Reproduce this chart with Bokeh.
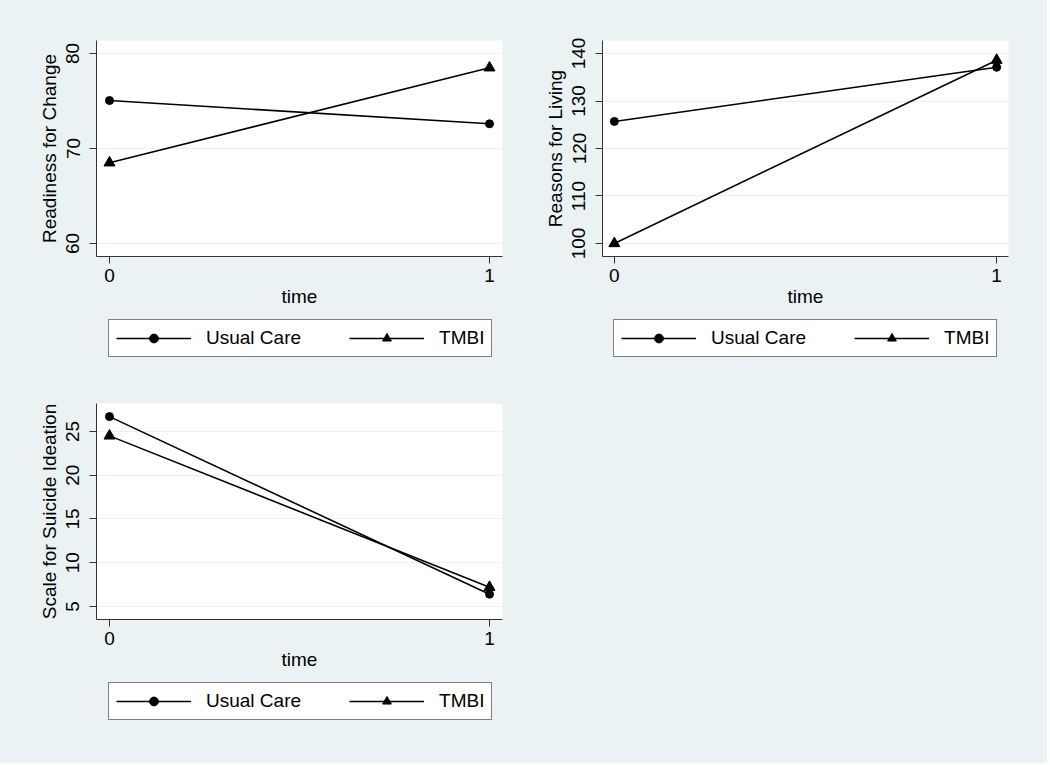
from bokeh.plotting import figure
from bokeh.models import Legend, LegendItem, FixedTicker, Range1d, Spacer
from bokeh.layouts import column, row
from bokeh.embed import file_html
from bokeh.resources import INLINE

# ---------------- data ----------------
time = [0, 1]
readiness_usual = [75.05, 72.6]
readiness_tmbi = [68.5, 78.5]
rfl_usual = [125.7, 137.1]
rfl_tmbi = [100.0, 138.6]
ssi_usual = [26.7, 6.4]
ssi_tmbi = [24.5, 7.2]

series_labels = ["Usual Care", "TMBI"]
x_ticks = [0, 1]
readiness_ticks = [60, 70, 80]
rfl_ticks = [100, 110, 120, 130, 140]
ssi_ticks = [5, 10, 15, 20, 25]

BG = "#EAF2F3"
FONT = "Liberation Sans"
FS = "19px"


def add_series(p, yu, yt, visible=True):
    lu = p.line(time, yu, line_color="black", line_width=1.6, visible=visible)
    su = p.scatter(time, yu, marker="circle", size=8, color="black", visible=visible)
    lt = p.line(time, yt, line_color="black", line_width=1.6, visible=visible)
    st = p.scatter(time, yt, marker="triangle", size=11, color="black", visible=visible)
    return lu, su, lt, st


def make_panel(yu, yt, yticks, yrange, ylabel, xrange, w, border_left, border_right,
               border_top, leg_h, leg_x, leg_y):
    p = figure(width=w, height=border_top + 216 + 60,
               x_range=Range1d(*xrange), y_range=Range1d(*yrange),
               output_backend="svg", toolbar_location=None,
               min_border_left=border_left, min_border_right=border_right,
               min_border_top=border_top, min_border_bottom=60)
    p.border_fill_color = BG
    p.background_fill_color = "white"
    p.outline_line_color = None

    p.xgrid.grid_line_color = None
    p.ygrid.grid_line_color = BG
    p.ygrid.grid_line_width = 1.2
    p.ygrid.ticker = FixedTicker(ticks=yticks)

    p.xaxis.ticker = FixedTicker(ticks=x_ticks)
    p.yaxis.ticker = FixedTicker(ticks=yticks)
    for ax in (p.xaxis[0], p.yaxis[0]):
        ax.minor_tick_line_color = None
        ax.major_tick_in = 0
        ax.major_tick_out = 7
        ax.axis_line_color = "#333333"
        ax.major_tick_line_color = "#333333"
        ax.major_label_text_font = FONT
        ax.major_label_text_font_size = FS
        ax.major_label_text_color = "black"
        ax.axis_label_text_font = FONT
        ax.axis_label_text_font_size = FS
        ax.axis_label_text_font_style = "normal"
        ax.axis_label_text_color = "black"
        ax.major_label_standoff = 5
        ax.axis_label_standoff = 1
    p.yaxis.major_label_standoff = 10
    p.yaxis.axis_label_standoff = 4
    p.xaxis.axis_label = "time"
    p.yaxis.axis_label = ylabel
    p.yaxis.major_label_orientation = "vertical"

    add_series(p, yu, yt)

    # legend strip below the plot
    lf = figure(width=w, height=leg_h, x_range=Range1d(*xrange), y_range=Range1d(*yrange),
                output_backend="svg", toolbar_location=None,
                x_axis_type=None, y_axis_type=None, min_border=0)
    lf.border_fill_color = BG
    lf.background_fill_color = BG
    lf.outline_line_color = None
    lf.grid.visible = False
    lu, su, lt, st = add_series(lf, yu, yt, visible=False)
    legend = Legend(items=[LegendItem(label=series_labels[0], renderers=[lu, su]),
                           LegendItem(label=series_labels[1], renderers=[lt, st])],
                    orientation="horizontal", location=(leg_x, leg_y),
                    click_policy="none",
                    glyph_width=75, glyph_height=22, label_standoff=15,
                    spacing=48, padding=7, margin=0,
                    border_line_color="black", border_line_width=1,
                    background_fill_color="white", background_fill_alpha=1.0,
                    label_text_font=FONT, label_text_font_size=FS,
                    label_text_color="black")
    lf.add_layout(legend, "center")
    return column(p, lf)


xr1 = (-0.0342, 1.0342)
c1 = make_panel(readiness_usual, readiness_tmbi, readiness_ticks, (58.63, 81.37),
                "Readiness for Change", xr1, 525, 96, 23, 40, 64, 12, 23)
c2 = make_panel(rfl_usual, rfl_tmbi, rfl_ticks, (97.26, 142.74),
                "Reasons for Living", (-0.031, 1.031), 522, 77, 39, 40, 64, 11, 23)
c3 = make_panel(ssi_usual, ssi_tmbi, ssi_ticks, (3.51, 28.2),
                "Scale for Suicide Ideation", xr1, 525, 96, 23, 23, 84, 12, 43)

layout = column(row(c1, c2), row(c3, Spacer(width=522, height=383)),
                styles={"background-color": BG})

open("out.html", "w").write(file_html(layout, INLINE))
